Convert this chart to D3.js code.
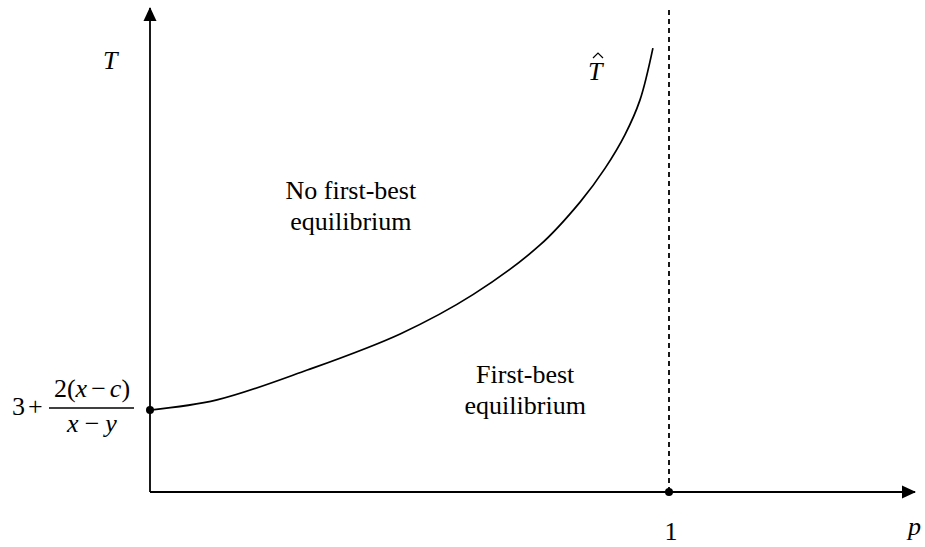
<!DOCTYPE html>
<html>
<head>
<meta charset="utf-8">
<script src="https://cdn.jsdelivr.net/npm/d3@7"></script>
<style>
  body { margin: 0; background: #fff; }
  svg text { font-family: "Times New Roman", Times, "Liberation Serif", "DejaVu Serif", serif; fill: #000; }
  .it { font-style: italic; }
</style>
</head>
<body>
<script>
// size of svg
var fullWidth = 925;
var fullHeight = 547;

// position of the origin and axis ends (pixels)
var origin = {x: 150, y: 492};
var axisEnd = {x: 915, y: 8};
var fontSize = "26px";

// data: threshold curve T-hat (p, T in chart units)
var pValues = [0, 0.129, 0.303, 0.482, 0.623, 0.751, 0.829, 0.877, 0.915, 0.944, 0.969];
var tValues = [17.0, 19.1, 25.3, 32.8, 41.0, 51.2, 60.2, 67.2, 74.1, 81.3, 92.1];

// marked points
var pOne = 1;
var tStart = 17.0;

// region labels (centre in chart units)
var regionLabels = [
    {lines: ["No first-best", "equilibrium"], p: 0.387, t: 60.8},
    {lines: ["First-best", "equilibrium"], p: 0.723, t: 22.6}
];

var svg = d3.select("body")
            .append("svg")
            .attr("width", fullWidth)
            .attr("height", fullHeight);

// scales
var xScale = d3.scaleLinear()
               .domain([0, 1])
               .range([origin.x, 669]);

var yScale = d3.scaleLinear()
               .domain([0, 100])
               .range([origin.y, 10]);

// arrow marker
svg.append("defs")
   .append("marker")
   .attr("id", "arrow")
   .attr("viewBox", "0 0 14 14")
   .attr("refX", 13)
   .attr("refY", 7)
   .attr("markerWidth", 14)
   .attr("markerHeight", 14)
   .attr("markerUnits", "userSpaceOnUse")
   .attr("orient", "auto")
   .append("path")
   .attr("d", "M0,0.5 L14,7 L0,13.5 Z")
   .attr("fill", "#000");

// y axis
svg.append("line")
   .attr("x1", origin.x).attr("y1", origin.y)
   .attr("x2", origin.x).attr("y2", axisEnd.y)
   .attr("stroke", "#000")
   .attr("stroke-width", 1.8)
   .attr("marker-end", "url(#arrow)");

// x axis
svg.append("line")
   .attr("x1", origin.x).attr("y1", origin.y)
   .attr("x2", axisEnd.x).attr("y2", origin.y)
   .attr("stroke", "#000")
   .attr("stroke-width", 1.8)
   .attr("marker-end", "url(#arrow)");

// dashed line at p = 1
svg.append("line")
   .attr("x1", xScale(pOne)).attr("y1", origin.y)
   .attr("x2", xScale(pOne)).attr("y2", 8)
   .attr("stroke", "#000")
   .attr("stroke-width", 1.8)
   .attr("stroke-dasharray", "5,4");

// curve
var curveData = pValues.map(function(p, i) { return {p: p, t: tValues[i]}; });

var line = d3.line()
             .x(function(d) { return xScale(d.p); })
             .y(function(d) { return yScale(d.t); })
             .curve(d3.curveCatmullRom.alpha(0.5));

svg.append("path")
   .datum(curveData)
   .attr("d", line)
   .attr("fill", "none")
   .attr("stroke", "#000")
   .attr("stroke-width", 1.7);

// dots
svg.append("circle")
   .attr("cx", xScale(0)).attr("cy", yScale(tStart))
   .attr("r", 4).attr("fill", "#000");

svg.append("circle")
   .attr("cx", xScale(pOne)).attr("cy", origin.y)
   .attr("r", 4).attr("fill", "#000");

// axis titles
svg.append("text")
   .attr("class", "it")
   .attr("x", 103).attr("y", 69)
   .style("font-size", fontSize)
   .text("T");

svg.append("text")
   .attr("class", "it")
   .attr("x", 908).attr("y", 535)
   .style("font-size", fontSize)
   .text("p");

svg.append("text")
   .attr("x", xScale(pOne) + 2).attr("y", 540)
   .attr("text-anchor", "middle")
   .style("font-size", fontSize)
   .text("1");

// T-hat label (hat drawn as a small caret)
var hat = svg.append("g").attr("transform", "translate(588,80)");
hat.append("text")
   .attr("class", "it")
   .style("font-size", fontSize)
   .text("T");
hat.append("path")
   .attr("d", "M5,-22 L10,-27 L15,-22")
   .attr("fill", "none")
   .attr("stroke", "#000")
   .attr("stroke-width", 1.2);

// intercept label: 3 + 2(x - c) / (x - y)
var lab = svg.append("g");
lab.append("text")
   .attr("x", 12).attr("y", 415)
   .style("font-size", fontSize)
   .text("3");
lab.append("text")
   .attr("x", 28).attr("y", 415)
   .style("font-size", fontSize)
   .text("+");

var num = lab.append("text")
   .attr("x", 92).attr("y", 397)
   .attr("text-anchor", "middle")
   .style("font-size", fontSize);
num.append("tspan").text("2(");
num.append("tspan").attr("class", "it").text("x");
num.append("tspan").attr("dx", 4).text("\u2212");
num.append("tspan").attr("class", "it").attr("dx", 4).text("c");
num.append("tspan").text(")");

lab.append("line")
   .attr("x1", 49).attr("x2", 134)
   .attr("y1", 408).attr("y2", 408)
   .attr("stroke", "#000")
   .attr("stroke-width", 1.4);

var den = lab.append("text")
   .attr("x", 92).attr("y", 432)
   .attr("text-anchor", "middle")
   .style("font-size", fontSize);
den.append("tspan").attr("class", "it").text("x");
den.append("tspan").attr("dx", 6).text("\u2212");
den.append("tspan").attr("class", "it").attr("dx", 6).text("y");

// region labels
regionLabels.forEach(function(r) {
    var t = svg.append("text")
               .attr("text-anchor", "middle")
               .style("font-size", fontSize);
    r.lines.forEach(function(s, i) {
        t.append("tspan")
         .attr("x", xScale(r.p))
         .attr("y", yScale(r.t) + i * 31)
         .text(s);
    });
});
</script>
</body>
</html>
